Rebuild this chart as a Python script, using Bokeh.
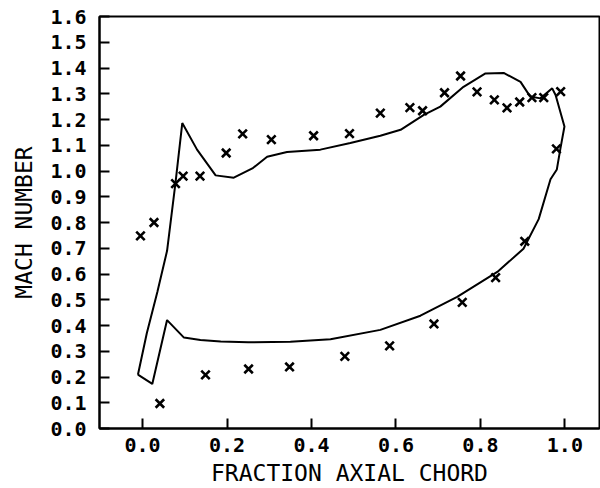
from bokeh.plotting import figure
from bokeh.models import FixedTicker, PrintfTickFormatter, Range1d
from bokeh.embed import file_html
from bokeh.resources import INLINE

# Calculated Mach number distribution (closed loop: upper surface, trailing edge, lower surface)
loop_x = [-0.011, 0.010, 0.035, 0.058, 0.078, 0.094, 0.129, 0.173, 0.216, 0.260, 0.295,
          0.342, 0.421, 0.492, 0.563, 0.611, 0.666, 0.705, 0.760, 0.812, 0.855, 0.895,
          0.918, 0.942, 0.970, 0.978, 0.999, 0.989, 0.981, 0.966, 0.938, 0.902, 0.840,
          0.745, 0.658, 0.563, 0.445, 0.350, 0.250, 0.185, 0.137, 0.098, 0.058, 0.023,
          -0.011]
loop_y = [0.209, 0.370, 0.530, 0.690, 0.955, 1.186, 1.083, 0.983, 0.974, 1.010, 1.055,
          1.074, 1.083, 1.109, 1.137, 1.160, 1.218, 1.250, 1.327, 1.379, 1.381, 1.346,
          1.289, 1.282, 1.321, 1.295, 1.173, 1.083, 1.006, 0.968, 0.813, 0.698, 0.608,
          0.511, 0.438, 0.383, 0.347, 0.337, 0.335, 0.338, 0.344, 0.353, 0.421, 0.173,
          0.209]

# Measured data (x markers)
upper_x = [-0.005, 0.027, 0.078, 0.096, 0.136, 0.198, 0.237, 0.305, 0.405, 0.490, 0.563,
           0.633, 0.663, 0.715, 0.753, 0.792, 0.833, 0.863, 0.893, 0.922, 0.950, 0.990,
           0.980]
upper_y = [0.748, 0.800, 0.951, 0.980, 0.980, 1.070, 1.144, 1.122, 1.137, 1.145, 1.225,
           1.246, 1.234, 1.304, 1.369, 1.307, 1.276, 1.245, 1.268, 1.285, 1.285, 1.308,
           1.086]
lower_x = [0.905, 0.836, 0.757, 0.690, 0.585, 0.479, 0.348, 0.251, 0.149, 0.041]
lower_y = [0.727, 0.586, 0.490, 0.406, 0.321, 0.280, 0.239, 0.231, 0.208, 0.097]

x_ticks = [0.0, 0.2, 0.4, 0.6, 0.8, 1.0]
y_ticks = [0.0, 0.1, 0.2, 0.3, 0.4, 0.5, 0.6, 0.7, 0.8, 0.9, 1.0, 1.1, 1.2, 1.3, 1.4,
           1.5, 1.6]

FONT = "DejaVu Sans Mono"

p = figure(width=600, height=488, output_backend="svg", toolbar_location=None,
           x_range=Range1d(-0.102, 1.082), y_range=Range1d(0.0, 1.6),
           min_border_left=99, min_border_right=1, min_border_top=16,
           min_border_bottom=57)

p.background_fill_color = "white"
p.border_fill_color = "white"
p.outline_line_color = "black"
p.outline_line_width = 2
p.xgrid.visible = False
p.ygrid.visible = False

p.line(loop_x, loop_y, line_color="black", line_width=2)
p.scatter(upper_x, upper_y, marker="x", size=12, line_color="black", line_width=2.6)
p.scatter(lower_x, lower_y, marker="x", size=12, line_color="black", line_width=2.6)

for ax in (p.xaxis[0], p.yaxis[0]):
    ax.axis_line_color = "black"
    ax.axis_line_width = 2
    ax.major_tick_in = 10
    ax.major_tick_out = 0
    ax.major_tick_line_width = 2
    ax.major_tick_line_color = "black"
    ax.minor_tick_line_color = None
    ax.major_label_text_font = FONT
    ax.major_label_text_font_size = "20px"
    ax.major_label_text_font_style = "bold"
    ax.major_label_text_color = "black"
    ax.axis_label_text_font = FONT
    ax.axis_label_text_font_size = "23px"
    ax.axis_label_text_font_style = "normal"
    ax.axis_label_text_color = "black"
    ax.formatter = PrintfTickFormatter(format="%.1f")

p.xaxis.ticker = FixedTicker(ticks=x_ticks)
p.yaxis.ticker = FixedTicker(ticks=y_ticks)
p.xaxis.axis_label = "FRACTION AXIAL CHORD"
p.yaxis.axis_label = "MACH NUMBER"
p.xaxis.major_label_standoff = 9
p.yaxis.major_label_standoff = 13
p.xaxis.axis_label_standoff = 5
p.yaxis.axis_label_standoff = 10

open("out.html", "w").write(file_html(p, INLINE))
